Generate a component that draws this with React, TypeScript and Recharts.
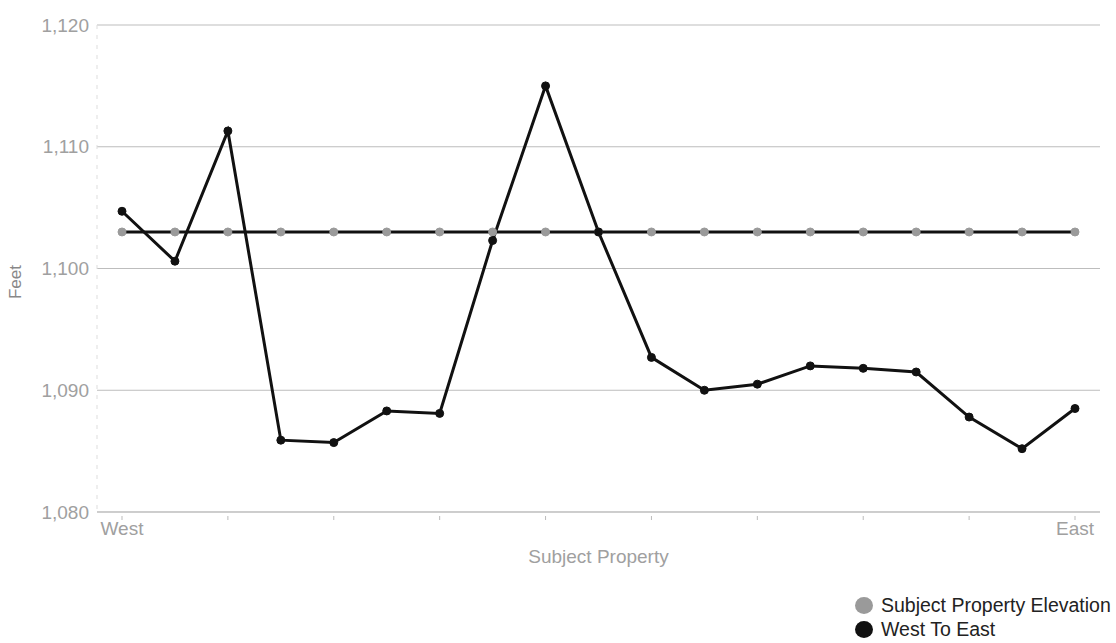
import React from 'react';
import { LineChart, Line, XAxis, YAxis, CartesianGrid } from 'recharts';

const positions = ['West', '', '', '', '', '', '', '', '', '', '', '', '', '', '', '', '', '', 'East'];
const subjectElevation = [1103, 1103, 1103, 1103, 1103, 1103, 1103, 1103, 1103, 1103, 1103, 1103, 1103, 1103, 1103, 1103, 1103, 1103, 1103];
const westToEast = [1104.7, 1100.6, 1111.3, 1085.9, 1085.7, 1088.3, 1088.1, 1102.3, 1115.0, 1103.0, 1092.7, 1090.0, 1090.5, 1092.0, 1091.8, 1091.5, 1087.8, 1085.2, 1088.5];
const yTicks = [1080, 1090, 1100, 1110, 1120];

const data = positions.map((p, i) => ({
  idx: i,
  label: p,
  subject: subjectElevation[i],
  west: westToEast[i],
}));

const FONT = '"Liberation Sans", Arial, sans-serif';

const XTick = (props: any) => {
  const { x, y, payload } = props;
  const i = payload.value as number;
  const label = positions[i];
  return (
    <g>
      {i % 2 === 0 && <line x1={x} x2={x} y1={y - 2} y2={y + 2} stroke="#bbb" />}
      {label && (
        <text x={x} y={y + 17} textAnchor="middle" fill="#a0a0a0" fontSize={19} fontFamily={FONT}>
          {label}
        </text>
      )}
    </g>
  );
};

const FeetLabel = () => (
  <text transform="translate(21,282) rotate(-90)" textAnchor="middle" fill="#888" fontSize={17} fontFamily={FONT}>
    Feet
  </text>
);

const App: React.FC = () => {
  return (
    <div style={{ position: 'absolute', left: 0, top: 0, width: 1116, height: 643, background: '#fff' }}>
      <LineChart width={1116} height={643} data={data} margin={{ top: 25, right: 16, bottom: 0, left: 0 }}>
        <CartesianGrid vertical={false} stroke="#bdbdbd" />
        <XAxis
          dataKey="idx"
          type="number"
          domain={[0, 18]}
          ticks={positions.map((_, i) => i)}
          padding={{ left: 25, right: 25 }}
          axisLine={{ stroke: '#bdbdbd' }}
          tickLine={false}
          tick={<XTick />}
          tickMargin={0}
          label={{ value: 'Subject Property', position: 'insideTop', offset: 38, fill: '#a0a0a0', fontSize: 19, fontFamily: FONT }}
          height={131}
        />
        <YAxis
          domain={[1080, 1120]}
          ticks={yTicks}
          width={97}
          tickFormatter={(v: number) => v.toLocaleString('en-US')}
          tick={{ fill: '#a0a0a0', fontSize: 19, fontFamily: FONT }}
          tickLine={false}
          axisLine={{ stroke: '#ddd', strokeDasharray: '4 6' }}
          tickMargin={2}
          label={{ content: <FeetLabel /> }}
        />
        <Line
          dataKey="subject"
          stroke="#111"
          strokeWidth={3}
          dot={{ r: 4, fill: '#9a9a9a', stroke: '#9a9a9a', strokeWidth: 1 }}
          isAnimationActive={false}
        />
        <Line
          dataKey="west"
          stroke="#111"
          strokeWidth={3}
          dot={{ r: 4, fill: '#111', stroke: '#111', strokeWidth: 1 }}
          isAnimationActive={false}
        />
      </LineChart>
      <div style={{ position: 'absolute', left: 855, top: 593, fontFamily: FONT, fontSize: 19.5, color: '#222', lineHeight: '24px' }}>
        <div style={{ display: 'flex', alignItems: 'center' }}>
          <span style={{ width: 18, height: 17, borderRadius: '50%', background: '#9a9a9a', display: 'inline-block', marginRight: 8 }} />
          Subject Property Elevation
        </div>
        <div style={{ display: 'flex', alignItems: 'center' }}>
          <span style={{ width: 18, height: 17, borderRadius: '50%', background: '#111', display: 'inline-block', marginRight: 8 }} />
          West To East
        </div>
      </div>
    </div>
  );
};

export default App;
